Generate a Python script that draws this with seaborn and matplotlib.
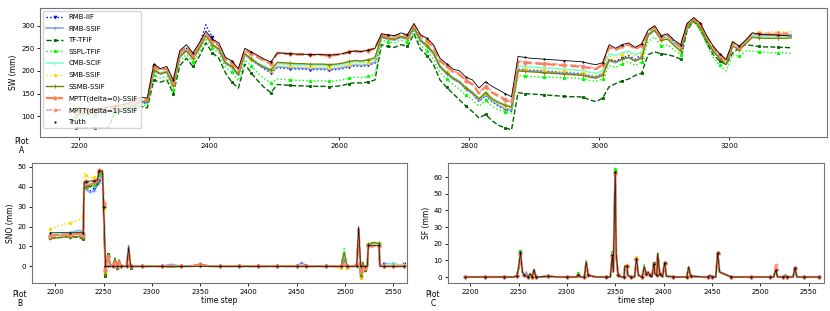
import pandas as pd
import seaborn as sns
import matplotlib.pyplot as plt

# ---------------- Plot A: SW, sampled every 10 time steps ----------------
t_sw = list(range(2195, 3296, 10))

sw_truth = [112, 113, 115, 116, 118, 120, 122, 125, 128, 135, 142, 140, 215, 205, 210, 180, 245, 258, 240, 262, 288, 270, 262, 230,
            222, 205, 250, 242, 234, 226, 220,
            240, 239, 238, 237, 237, 236, 236, 236, 235, 236, 238, 242, 244, 243, 246, 250,
            282, 280, 278, 284, 280,
            305, 280, 272, 258, 228, 216, 204, 200, 186, 180, 162, 176, 166, 158, 150, 143,
            232, 230, 228, 227, 226, 225, 224, 223, 222, 221, 220, 216, 214,
            218, 258, 250, 258, 262, 252, 260,
            290, 300, 278, 282, 268, 258, 305, 318, 306, 278, 255, 238, 225, 265, 255, 268, 284, 282, 280, 280, 279, 278, 277]
sw_mptt0 = [108, 110, 112, 113, 115, 117, 119, 121, 124, 130, 138, 136, 210, 202, 205, 176, 240, 252, 236, 258, 282, 265, 256, 226,
            218, 200, 246, 238, 230, 222, 216,
            239, 238, 237, 236, 236, 235, 235, 235, 234, 235, 237, 241, 243, 242, 245, 249,
            280, 277, 276, 281, 278,
            300, 276, 266, 252, 222, 210, 198, 192, 178, 170, 150, 165, 152, 144, 136, 129,
            220, 218, 217, 216, 215, 214, 213, 212, 211, 210, 209, 206, 204,
            214, 252, 246, 254, 258, 248, 256,
            287, 297, 275, 279, 265, 254, 303, 315, 303, 275, 252, 234, 222, 262, 252, 266, 282, 281, 280, 280, 280, 281, 282]
sw_mptt1 = [110, 111, 113, 115, 116, 118, 120, 122, 125, 131, 139, 137, 212, 203, 207, 178, 242, 254, 238, 259, 284, 267, 258, 228,
            220, 202, 248, 240, 232, 224, 218,
            241, 240, 239, 238, 238, 237, 237, 237, 236, 237, 239, 243, 245, 244, 247, 251,
            281, 278, 277, 282, 279,
            302, 278, 268, 254, 224, 212, 200, 194, 180, 172, 152, 167, 154, 146, 138, 131,
            222, 220, 219, 218, 217, 216, 215, 214, 213, 212, 211, 208, 206,
            216, 254, 248, 256, 259, 250, 257,
            288, 298, 276, 280, 266, 256, 304, 316, 304, 276, 253, 236, 223, 263, 253, 267, 283, 283, 283, 283, 283, 284, 284]
sw_ssmb = [104, 105, 107, 108, 110, 112, 114, 116, 119, 125, 133, 131, 202, 194, 198, 168, 232, 245, 228, 250, 278, 258, 248, 218,
           210, 192, 238, 226, 216, 208, 202,
           219, 218, 217, 216, 216, 215, 215, 215, 214, 215, 217, 221, 223, 222, 225, 229,
           276, 272, 270, 276, 272,
           296, 268, 256, 240, 210, 196, 184, 176, 162, 152, 138, 152, 138, 130, 124, 120,
           200, 199, 198, 197, 196, 195, 194, 193, 192, 191, 190, 186, 184,
           190, 224, 220, 226, 230, 222, 228,
           280, 290, 268, 270, 256, 244, 298, 312, 298, 268, 244, 228, 214, 255, 246, 260, 274, 273, 272, 272, 272, 272, 273]
sw_cmb = [106, 107, 109, 110, 112, 114, 116, 118, 121, 127, 134, 132, 204, 196, 200, 170, 234, 246, 230, 251, 279, 260, 250, 220,
          212, 194, 240, 228, 218, 210, 204,
          216, 215, 214, 213, 213, 212, 212, 212, 211, 212, 214, 218, 220, 219, 222, 226,
          277, 273, 271, 277, 273,
          297, 270, 258, 242, 212, 198, 186, 178, 164, 154, 140, 154, 140, 132, 126, 121,
          212, 210, 209, 208, 207, 206, 205, 204, 203, 202, 201, 197, 195,
          200, 238, 234, 240, 244, 236, 242,
          283, 292, 270, 273, 258, 248, 300, 314, 300, 270, 247, 230, 216, 258, 248, 262, 278, 277, 276, 276, 276, 276, 277]
sw_smb = [115, 116, 118, 119, 121, 123, 125, 127, 129, 133, 137, 135, 203, 195, 199, 169, 233, 246, 229, 252, 280, 259, 249, 219,
          210, 192, 238, 226, 216, 208, 200,
          212, 211, 210, 209, 209, 208, 208, 208, 207, 208, 210, 214, 216, 215, 218, 222,
          276, 272, 270, 276, 272,
          296, 269, 257, 241, 211, 197, 185, 176, 162, 152, 136, 150, 135, 126, 120, 117,
          206, 205, 204, 203, 202, 201, 200, 199, 198, 197, 196, 192, 190,
          196, 232, 228, 236, 240, 232, 238,
          282, 292, 269, 272, 257, 246, 302, 316, 302, 272, 248, 232, 218, 260, 252, 266, 284, 285, 285, 286, 286, 286, 287]
sw_rmb_ssif = [103, 104, 106, 107, 109, 111, 113, 115, 118, 124, 131, 129, 200, 193, 197, 166, 231, 244, 227, 250, 282, 258, 246, 216,
               208, 190, 236, 224, 214, 206, 198,
               209, 208, 207, 206, 206, 205, 205, 205, 204, 205, 207, 211, 213, 212, 215, 219,
               274, 270, 268, 274, 270,
               294, 266, 254, 238, 208, 194, 182, 174, 160, 150, 134, 148, 134, 124, 117, 113,
               202, 201, 200, 199, 198, 197, 196, 195, 194, 193, 192, 188, 186,
               194, 222, 218, 226, 230, 222, 232,
               278, 290, 270, 274, 262, 246, 298, 314, 298, 266, 244, 228, 214, 256, 250, 264, 278, 278, 278, 278, 278, 278, 279]
sw_rmb_iif = [102, 103, 105, 106, 108, 110, 112, 114, 117, 123, 130, 128, 201, 194, 199, 168, 234, 250, 232, 258, 302, 274, 255, 222,
              208, 190, 240, 226, 214, 204, 196,
              207, 206, 205, 204, 204, 203, 203, 203, 202, 203, 205, 209, 211, 210, 213, 217,
              275, 271, 269, 275, 271,
              295, 267, 255, 239, 209, 195, 183, 174, 160, 149, 132, 146, 132, 122, 115, 111,
              204, 203, 202, 201, 200, 199, 198, 197, 196, 195, 194, 190, 188,
              194, 226, 222, 228, 234, 226, 236,
              280, 292, 272, 278, 266, 248, 300, 315, 299, 267, 244, 228, 214, 257, 250, 264, 279, 279, 279, 279, 279, 279, 280]
sw_sspl = [98, 99, 100, 101, 103, 105, 107, 109, 112, 118, 125, 123, 190, 184, 188, 158, 222, 236, 220, 242, 272, 250, 240, 208,
           198, 178, 225, 210, 195, 183, 174,
           182, 181, 180, 179, 179, 178, 178, 178, 177, 178, 180, 184, 186, 185, 188, 192,
           268, 264, 262, 268, 264,
           288, 258, 244, 226, 196, 182, 170, 160, 146, 136, 122, 136, 122, 114, 110, 107,
           190, 189, 188, 187, 186, 186, 185, 185, 184, 184, 183, 179, 177,
           182, 212, 208, 216, 220, 212, 220,
           265, 275, 255, 258, 246, 236, 292, 310, 292, 258, 230, 212, 200, 236, 232, 244, 244, 242, 241, 240, 240, 240, 239]
sw_tf = [74, 74, 74, 74, 74, 74, 108, 110, 114, 118, 122, 118, 180, 175, 180, 150, 212, 228, 210, 232, 262, 240, 228, 196,
         175, 162, 215, 195, 178, 163, 152,
         170, 169, 168, 167, 167, 166, 166, 166, 165, 166, 168, 172, 174, 173, 176, 180,
         258, 254, 252, 258, 254,
         282, 248, 234, 214, 180, 164, 150, 136, 122, 110, 96, 104, 90, 80, 74, 70,
         152, 150, 149, 148, 147, 146, 145, 144, 143, 143, 142, 136, 132,
         140, 165, 172, 178, 182, 190, 195,
         236, 242, 238, 236, 232, 226, 290, 310, 292, 262, 236, 222, 214, 240, 250, 258, 256, 254, 253, 253, 252, 252, 251]

# ---------------- Plot B: SNO ----------------
t_sno = [2195, 2205, 2215, 2225, 2229, 2230, 2232, 2236, 2240, 2244, 2245, 2249, 2250, 2251, 2252,
         2253, 2255, 2257, 2260, 2262, 2264, 2266, 2268, 2272, 2274, 2276, 2278, 2280, 2290, 2300,
         2310, 2320, 2330, 2340, 2350, 2360, 2370, 2380, 2390, 2400, 2410, 2420, 2430, 2440, 2450,
         2455, 2460, 2470, 2480, 2490, 2496, 2499, 2502, 2508, 2512, 2514, 2516, 2518, 2521, 2523,
         2524, 2530, 2535, 2536, 2540, 2545, 2550, 2555, 2561]

sno_truth = [17, 17, 17, 17, 17, 42.5, 42.5, 43, 43, 43.5, 48, 48, 30, 18, 0,
             0, 0, 0, 0, 0, 0, 0, 0, 0, 0, 9.5, 0, 0, 0, 0,
             0, 0, 0, 0, 0, 0, 0, 0, 0, 0, 0, 0, 0, 0, 0,
             0, 0, 0, 0, 0, 0, 0, 0, 0, 0, 20, 0, 0, 0, 0,
             10.5, 10.5, 10.5, 0, 0, 0, 0, 0, 0]
sno_mptt0 = [15.5, 16, 16, 16.5, 16, 42, 43, 42, 43, 44, 48.5, 48, 32, 15, -2,
             1, 5, 0, 0, 3, 0, 3, 0, 0, 0.5, 9, 0, 0, 0, 0,
             0, 0, 0, 0, 0.5, 0, 0, 0, 0, 0, 0, 0, 0, 0, 0,
             0, 0, 0, 0, 0, 0, 1, 0, 0, 0.5, 19, -3, 1, -1, 0,
             10, 10, 10, 0, 0, 0, 0, 0, 0]
sno_mptt1 = [15, 15.5, 16, 16, 15.5, 41, 42, 41, 42, 43, 48, 47.5, 31, 16, -1,
             0, 4, 0, 1, 2, 0, 2, 0, 0, 0, 8.5, 0, 0, 0, 0,
             0, 0, 0, 0, 1, 0, 0, 0, 0, 0, 0, 0, 0, 0, 0,
             0, 0, 0, 0, 0, 0, 2, 0, 0, 1, 18, -2, 1, -1, 0,
             10, 10.5, 10, 0, 0, 0, 0, 0, 0]
sno_ssmb = [14, 14.5, 15, 15, 14, 40, 40, 41, 42, 42, 47, 47, 30, 12, -4,
            2, 5, 1, 0, 4, -1, 3, 0, 0, 0, 8.5, -0.5, 0, 0, 0,
            0, -0.5, 0, 0, 1, 0, 0, 0, 0, 0, 0, 0, 0, 0, 0,
            0, 0, 0, 0, 0, 0, 7, 0, 0, 1, 16, -5, 2, -2, 0,
            11, 12, 11.5, 0, 0, 0, 0, 0, 0]
sno_cmb = [16, 16.5, 17, 17, 16.5, 42, 43, 42, 43, 44, 47, 47, 31, 14, -2,
           1, 4, 0, 0, 2, 0, 2, 0, 0, 0, 9, 0, 0, 0, 0,
           0, 0, 0, 0, 1, 0, 0, 0, 0, 0, 0, 0, 0, 0, 0,
           0, 0, 0, 0, 0, 0, 8, 0, 0, 0, 18, -3, 1, -1, 0,
           10.5, 11, 11, 0, 0.5, 1, 1, 0.5, 1]
sno_smb = [19, 20.5, 22, 23.5, 25, 47, 46, 44, 45, 45, 48, 48, 29, 14, -3,
           1, 4, 0, 0, 2, 0, 2, 0, 0, 0, 8.5, 0, 0, 0, 0,
           0, 0, 0, 0, 1, 0, 0, 0, 0, 0, 0, 0, 0, 0, 0,
           0, 0, 0, 0, -0.5, -1, 7, -1, 0, 0, 17, -6, 1, -1, 0,
           11, 11, 11, 0, -0.5, 0, 0, 0, 0]
sno_rmb_ssif = [16, 16.5, 17, 18, 17.5, 40, 39, 37, 38, 41, 42, 47, 31, 15, -2,
                1, 4, 0, 1, 3, 0, 3, 0, 0, 0, 10.5, 0, 0, 0, 0,
                0, 1, 0, 0, 1, 0, 0, 0, 0, 0, 0, 0, 0, 0, 0,
                2, 0, 0, 0, 0, 0, 4, 0, 0, 0, 19, -3, 1, -1, 0,
                10.5, 11, 10.5, 0, 1, 1, 1, 0.5, 0.5]
sno_rmb_iif = [15.5, 16, 16.5, 17, 16, 40, 40, 38, 39, 41, 43, 47, 30, 14, -3,
               1, 5, 0, 0, 3, 0, 3, 0, 0, 0, 10, 0, 0, 0, 0,
               0, 0.5, 0, 0, 0.5, 0, 0, 0, 0, 0, 0, 0, 0, 0, 0,
               1.5, 0, 0, 0, 0, 0, 3, 0, 0, 0, 19, -3, 1, -1, 0,
               10, 10.5, 10, 0, 1, 1, 1, 0.5, 1]
sno_sspl = [15, 15.5, 16, 16, 15, 40, 40, 41, 41, 42, 46, 47, 30, 13, -3,
            1, 5, 0, 0, 3, 0, 3, 0, 0, 0, 9, 0, 0, 0, 0,
            0, 0, 0, 0, 1, 0, 0, 0, 0, 0, 0, 0, 0, 0, 0,
            0, 0, 0, 0, 0, 0, 9, 0, 0, 0, 18, -4, 1, -1, 0,
            11, 12, 11.5, 0, 0, 0, 1, 1, 0.5]
sno_tf = [14, 14.5, 15, 14.5, 13.5, 39, 40, 40, 41, 41, 46, 47, 30, 13, -5,
          2, 6, 0, 0, 4, -1, 3, 0, 0, 0, 9, -1, 0, 0, 0,
          0, 0, 0, 0, 1, 0, 0, 0, 0, 0, 0, 0, 0, 0, 0,
          0, 0, 0, 0, 0, 0, 8, -1, 0, 0, 17, -5, 2, -2, 0,
          11, 12, 11, 0, 0, 0, 0, 0, 0]

# ---------------- Plot C: SF ----------------
t_sf = [2195, 2205, 2215, 2225, 2235, 2245, 2248, 2250, 2252, 2254, 2256, 2258, 2260, 2262, 2264,
        2266, 2268, 2272, 2280, 2290, 2300, 2310, 2312, 2314, 2318, 2320, 2322, 2330, 2340, 2345,
        2347, 2348, 2350, 2351, 2353, 2356, 2359, 2360, 2362, 2363, 2366, 2370, 2372, 2374, 2378,
        2380, 2382, 2384, 2386, 2388, 2390, 2391, 2393, 2394, 2396, 2399, 2401, 2403, 2410, 2420,
        2424, 2426, 2428, 2440, 2446, 2448, 2450, 2454, 2456, 2458, 2470, 2480, 2490, 2500, 2510,
        2514, 2516, 2518, 2524, 2526, 2528, 2534, 2536, 2538, 2545, 2550, 2561]

sf_truth = [0, 0, 0, 0, 0, 0, 0.5, 5, 15, 3, 1, 0.5, 0, 2, 0,
            4.5, 0, 0, 0.5, 0, 0, 0, 1.5, 0, 0, 9, 1, 0, 0, 0,
            13, 3, 63, 14, 1, 0, 0, 6.5, 6.5, 1, 0, 0, 11, 1, 0,
            6, 2, 3, 1, 0, 8, 2, 1, 14, 2, 0, 8.5, 0.5, 0, 0,
            0, 6, 0.5, 0, 0, 1, 0, 0, 14.5, 3, 0, 0, 0, 0, 0,
            0, 4, 0, 0, 0.5, 0, 0, 5.5, 0, 0, 0, 0]
sf_mptt0 = [0, 0, 0, 0, 0, 0, 0.5, 5, 14, 3, 1, 1, 0, 1.5, 0,
            4, 0, 0, 0.5, 0, 0, 0, 1.5, 0, 0, 8.5, 1, 0, 0, 0,
            12, 3, 62, 13, 1, 0, 0, 6, 6, 1, 0, 0, 10.5, 1, 0,
            5.5, 2, 3, 1, 0, 7.5, 2, 1, 13.5, 2, 0, 8, 0.5, 0, 0,
            0, 5.5, 0.5, 0, 0, 1, 0, 0, 14, 3, 0, 0, 0, 0, 0,
            0, 5, 0, 0, 0.5, 0, 0, 5, 0, 0, 0, 0]
sf_mptt1 = [0, 0, 0, 0, 0, 0, 0.5, 5, 14.5, 3, 1, 1, 0, 2, 0,
            4.5, 0, 0, 0.5, 0, 0, 0, 1.5, 0, 0, 9, 1, 0, 0, 0,
            13, 3, 62.5, 13, 1, 0, 0, 6.5, 6.5, 1, 0, 0, 11, 1, 0,
            6, 2, 3, 1, 0, 8, 2, 1, 14, 2, 0, 8.5, 0.5, 0, 0,
            0, 6, 0.5, 0, 0, 1, 0, 0, 14.5, 3, 0, 0, 0, 0, 0,
            0, 7.5, 0, 0, 1, 0, 0, 5.5, 0, 0, 0, 0]
sf_ssmb = [0, 0, 0, 0, 0, 0, 0.5, 5, 14.5, 3, 1, 1, 0, 2, 0,
           4.5, 0, 0, 0.5, 0, 0, 0, 1.5, 0, 0, 9, 1, 0, 0, 0,
           13.5, 3, 63, 14, 1, 0, 0, 6.5, 6.5, 1, 0, 0, 11, 1, 0,
           6.5, 2, 3, 1, 0, 8.5, 2, 1, 14, 2, 0, 8.5, 0.5, 0, 0,
           0, 6, 0.5, 0, 0, 1, 0, 0, 14.5, 3, 0, 0, 0, 0, 0,
           0, 4.5, 0, 0, 0.5, 0, 0, 5.5, 0, 0, 0, 0]
sf_cmb = [0, 0, 0, 0, 0, 0, 0.5, 5, 15, 3, 1, 1, 0, 2, 0,
          4.5, 0, 0, 0.5, 0, 0, 0, 1.5, 0, 0, 9, 1, 0, 0, 0,
          13, 3, 63, 14, 1, 0, 0, 6.5, 6.5, 1, 0, 0, 11, 1, 0,
          6, 2, 3, 1, 0, 8, 2, 1, 14, 2, 0, 8.5, 0.5, 0, 0,
          0, 6, 0.5, 0, 0, 1, 0, 0, 14.5, 3, 0, 0, 0, 0, 0,
          0, 4.5, 0, 0, 0.5, 0, 0, 5.5, 0, 0, 0, 0]
sf_smb = [0, 0, 0, 0.5, 0, 0, 0.5, 5, 14, 3, 1, 1, 0, 2, 0,
          4, 0, 0, 0.5, 0, 0, 0, 1.5, 0, 0, 9, 1, 0, 0, 0,
          13, 3, 62, 14, 1, 0, 0, 7.5, 7.5, 1, 0, 0, 12, 1, 0,
          6, 2, 3, 1, 0, 8, 2, 1, 14, 2, 0, 8.5, 0.5, 0, 0,
          0, 6, 0.5, 0, 0, 1, 0, 0, 14.5, 3, 0, 0, 0, 0, 0,
          0, 4, 0, 0, 0.5, 0, 0, 5.5, 0, 0, 0, 0]
sf_rmb_ssif = [0, 0, 0, 0, 0, 0, 0.5, 5, 14.5, 3, 1, 3, 0, 2, 0,
               4.5, 0, 0, 0.5, 0, 0, 0, 1.5, 0, 0, 8.5, 1, 0, 0, 0,
               13, 3, 62.5, 14, 1, 0, 0, 6.5, 6.5, 1, 0, 0, 11, 1, 0,
               6, 2, 3, 1, 0, 8, 2, 1, 14, 2, 0, 8.5, 0.5, 0, 0,
               0, 6, 0.5, 0, 0, 1, 0, 0, 14.5, 3, 0, 0, 0, 0, 0,
               0, 4, 0, 0, 1.5, 0, 0, 5.5, 0, 0, 0, 0]
sf_rmb_iif = [0, 0, 0, 0, 0, 0, 0.5, 5, 14.5, 3, 1, 2.5, 0, 2, 0,
              4.5, 0, 0, 0.5, 0, 0, 0, 1.5, 0, 0, 8.5, 1, 0, 0, 0,
              13, 3, 62.5, 14, 1, 0, 0, 6.5, 6.5, 1, 0, 0, 11, 1, 0,
              6, 2, 3, 1, 0, 8, 2, 1, 14, 2, 0, 8.5, 0.5, 0, 0,
              0, 6, 0.5, 0, 0, 1, 0, 0, 14.5, 3, 0, 0, 0, 0, 0,
              0, 4, 0, 0, 1, 0, 0, 5.5, 0, 0, 0, 0]
sf_sspl = [0, 0, 0, 0, 0, 0, 0.5, 5, 15.5, 3, 1, 1, 0, 2, 0,
           4.5, 0, 0, 0.5, 0, 0, 0, 2.5, 0, 0, 10.5, 1, 0, 0, 0,
           15, 3, 65, 14, 1, 0, 0, 6.5, 6.5, 1, 0, 0, 11, 1, 0,
           7.5, 2, 3, 1, 0, 8, 2, 1, 14.5, 2, 0, 8.5, 0.5, 0, 0,
           0, 6, 0.5, 0, 0, 1, 0, 0, 14.5, 3, 0, 0, 0, 0, 0,
           0, 4, 0, 0, 0.5, 0, 0, 5.5, 0, 0, 0, 0]
sf_tf = [0, 0, 0, 0, 0, 0, 0.5, 5, 15.5, 3, 1, 1, 0, 2, 0,
         4.5, 0, 0, 0.5, 0, 0, 0, 2, 0, 0, 9.5, 1, 0, 0, 0,
         13, 3, 63, 14, 1, 0, 0, 6.5, 6.5, 1, 0, 0, 11, 1, 0,
         6.5, 2, 3, 1, 0, 8.5, 2, 1, 14, 2, 0, 8.5, 0.5, 0, 0,
         0, 6, 0.5, 0, 0, 1, 0, 0, 14.5, 3, 0, 0, 0, 0, 0,
         0, 4.5, 0, 0, 0.5, 0, 0, 5.5, 0, 0, 0, 0]

names = ['RMB-IIF', 'RMB-SSIF', 'TF-TFIF', 'SSPL-TFIF', 'CMB-SCIF', 'SMB-SSIF',
         'SSMB-SSIF', 'MPTT(delta=0)-SSIF', 'MPTT(delta=1)-SSIF', 'Truth']
sw = [sw_rmb_iif, sw_rmb_ssif, sw_tf, sw_sspl, sw_cmb, sw_smb, sw_ssmb, sw_mptt0, sw_mptt1, sw_truth]
sno = [sno_rmb_iif, sno_rmb_ssif, sno_tf, sno_sspl, sno_cmb, sno_smb, sno_ssmb, sno_mptt0, sno_mptt1, sno_truth]
sf = [sf_rmb_iif, sf_rmb_ssif, sf_tf, sf_sspl, sf_cmb, sf_smb, sf_ssmb, sf_mptt0, sf_mptt1, sf_truth]

styles = [
    dict(color='blue', linestyle=':', marker='v', markersize=2, linewidth=1.0),
    dict(color='cornflowerblue', linestyle='-', marker='+', markersize=2.5, linewidth=1.3, alpha=0.75),
    dict(color='darkgreen', linestyle='--', marker='s', markersize=1.8, linewidth=1.0),
    dict(color='lime', linestyle=':', marker='*', markersize=2.5, linewidth=1.0),
    dict(color='aquamarine', linestyle='-', marker='+', markersize=2.5, linewidth=1.2),
    dict(color='gold', linestyle=':', marker='*', markersize=2.5, linewidth=1.0),
    dict(color='olive', linestyle='-', marker='+', markersize=2.5, linewidth=1.0),
    dict(color='coral', linestyle='--', marker='P', markersize=2.5, linewidth=1.6),
    dict(color='salmon', linestyle='--', marker='o', markersize=2.2, linewidth=1.2, alpha=0.7),
    dict(color='black', linestyle='-', marker='.', markersize=1.8, linewidth=0.6),
]


def draw(ax, t, series, every, truth_lw):
    for name, vals, st in zip(names, series, styles):
        st = dict(st)
        if name == 'Truth':
            st['linewidth'] = truth_lw
        sns.lineplot(x=t, y=vals, ax=ax, label=name, legend=False, sort=False,
                     estimator=None, markevery=every,
                     markeredgecolor=st['color'], markeredgewidth=0.6, **st)


def style_axes(ax):
    ax.tick_params(labelsize=5, length=2.5, width=0.6, pad=1.5)
    for s in ax.spines.values():
        s.set_color('0.45')
        s.set_linewidth(0.8)


fig = plt.figure(figsize=(8.3, 3.11), dpi=100)
W, H = 830, 311
axA = fig.add_axes([40 / W, 1 - 137 / H, 787 / W, 129 / H])
axB = fig.add_axes([32 / W, 1 - 283 / H, 375 / W, 120 / H])
axC = fig.add_axes([448 / W, 1 - 283 / H, 376 / W, 120 / H])

draw(axA, t_sw, sw, 3, 0.6)
draw(axB, t_sno, sno, 2, 0.45)
draw(axC, t_sf, sf, 2, 0.45)

axA.set_xlim(2140, 3350)
axA.set_ylim(54, 339)
axA.set_xticks([2200, 2400, 2600, 2800, 3000, 3200])
axA.set_yticks([100, 150, 200, 250, 300])
axA.set_xlabel('')
axA.set_ylabel('SW (mm)', fontsize=5.5, labelpad=2)

axB.set_xlim(2176, 2564)
axB.set_ylim(-8.4, 52)
axB.set_xticks(range(2200, 2551, 50))
axB.set_yticks([0, 10, 20, 30, 40, 50])
axB.set_xlabel('time step', fontsize=5.5, labelpad=1)
axB.set_ylabel('SNO (mm)', fontsize=5.5, labelpad=2)

axC.set_xlim(2177, 2566)
axC.set_ylim(-3.6, 68.4)
axC.set_xticks(range(2200, 2551, 50))
axC.set_yticks([0, 10, 20, 30, 40, 50, 60])
axC.set_xlabel('time step', fontsize=5.5, labelpad=1)
axC.set_ylabel('SF (mm)', fontsize=5.5, labelpad=2)

for ax in (axA, axB, axC):
    style_axes(ax)

leg = axA.legend(loc='upper left', fontsize=5, labelspacing=0.8, handlelength=2.4,
                 borderpad=0.4, framealpha=0.8, edgecolor='0.8')
leg.legend_handles[-1].set_linestyle('none')

fig.text(22 / W, 1 - 146 / H, 'Plot\nA', ha='center', va='center', fontsize=5.5, linespacing=1.1)
fig.text(20 / W, 1 - 299 / H, 'Plot\nB', ha='center', va='center', fontsize=5.5, linespacing=1.1)
fig.text(433 / W, 1 - 299 / H, 'Plot\nC', ha='center', va='center', fontsize=5.5, linespacing=1.1)

fig.savefig('out.png', dpi=100)
